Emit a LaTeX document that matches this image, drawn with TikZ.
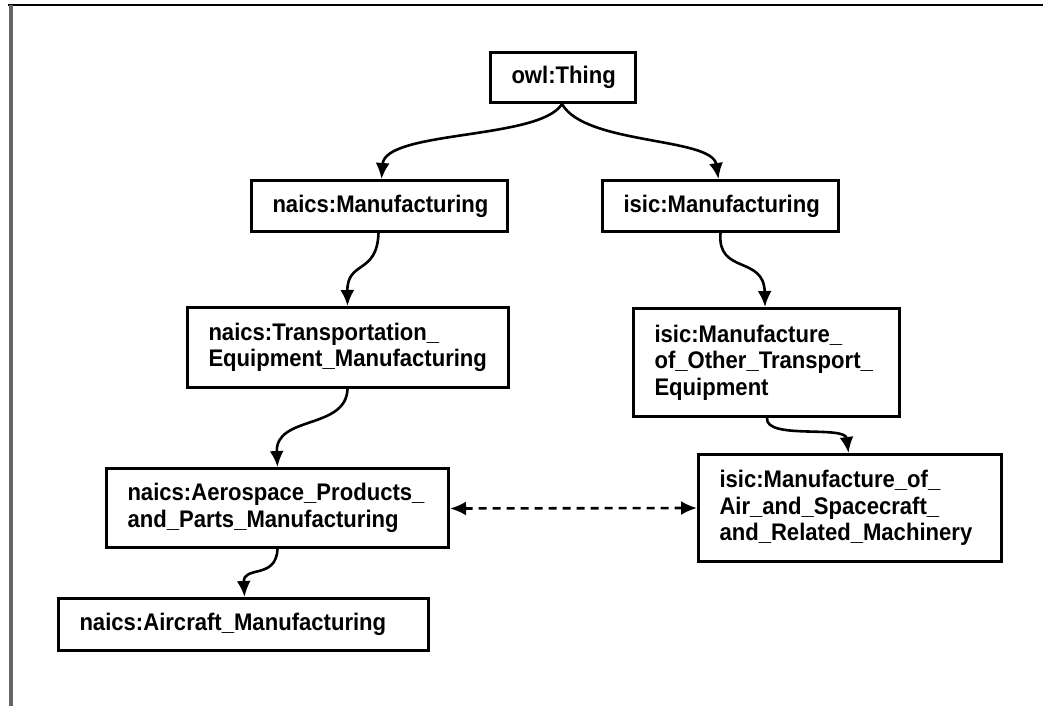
\documentclass[tikz,border=0pt]{standalone}
\usepackage{fontspec}
\newfontfamily\labelfont{Liberation Sans Bold}[FakeStretch=0.92]
\usetikzlibrary{arrows.meta}
\begin{document}
\begin{tikzpicture}[x=1pt,y=-1pt,
  classbox/.style={draw, line width=3pt, anchor=north west, align=left,
    inner xsep=21pt, inner ysep=0pt,
    font=\labelfont\fontsize{24}{26.5}\selectfont},
  subof/.style={line width=2.6pt, -{Latex[length=16pt,width=14pt]}},
  equiv/.style={line width=2.6pt, dash pattern=on 8pt off 6pt,
    {Latex[length=16pt,width=14pt]}-{Latex[length=16pt,width=14pt]}}]
  \useasboundingbox[fill=white] (0,0) rectangle (1043,706);
  % page frame
  \draw[line width=2.5pt] (8,5) -- (1043,5);
  \draw[line width=3.5pt, black!60] (11,5) -- (11,706);

  % classes
  \node[classbox, text width=103pt, minimum height=50pt] (thing) at (489,51) {owl:Thing};
  \node[classbox, text width=214pt, minimum height=51pt] (nman) at (250,179) {naics:Manufacturing};
  \node[classbox, text width=194pt, minimum height=51pt] (iman) at (601,179) {isic:Manufacturing};
  \node[classbox, text width=279pt, minimum height=80pt] (trans) at (186,306)
    {naics:Transportation\_\\Equipment\_Manufacturing};
  \node[classbox, text width=224pt, minimum height=108pt] (other) at (632,307)
    {isic:Manufacture\_\\of\_Other\_Transport\_\\Equipment};
  \node[classbox, text width=300pt, minimum height=79pt] (aero) at (105,467)
    {naics:Aerospace\_Products\_\\and\_Parts\_Manufacturing};
  \node[classbox, text width=261pt, minimum height=107pt] (air) at (697,453)
    {isic:Manufacture\_of\_\\Air\_and\_Spacecraft\_\\and\_Related\_Machinery};
  \node[classbox, text width=328pt, minimum height=52pt] (craft) at (57,597)
    {naics:Aircraft\_Manufacturing};

  % subclass links
  \draw[subof] ([xshift=-1pt]thing.south) .. controls (540,140) and (385,130) .. ([xshift=2pt]nman.north);
  \draw[subof] ([xshift=-1pt]thing.south) .. controls (585,145) and (712,137) .. ([xshift=-2pt]iman.north);
  \draw[subof] ([xshift=-1pt]nman.south) .. controls (377,275) and (347,260) .. ([xshift=-0.5pt]trans.north);
  \draw[subof] ([xshift=0pt]iman.south) .. controls (717,275) and (764,255) .. ([xshift=-1.5pt]other.north);
  \draw[subof] ([xshift=0.5pt]other.south) .. controls (765,440) and (845,425) .. ([xshift=-1.5pt]air.north);
  \draw[subof] ([xshift=-0.5pt]trans.south) .. controls (346,430) and (275,415) .. ([xshift=0pt]aero.north);
  \draw[subof] (aero.south) .. controls (276,580) and (243,565) .. ([xshift=1pt]craft.north);

  % equivalence link
  \draw[equiv] ([yshift=-0.5pt]aero.east) -- (air.west |- aero.east);
\end{tikzpicture}
\end{document}
